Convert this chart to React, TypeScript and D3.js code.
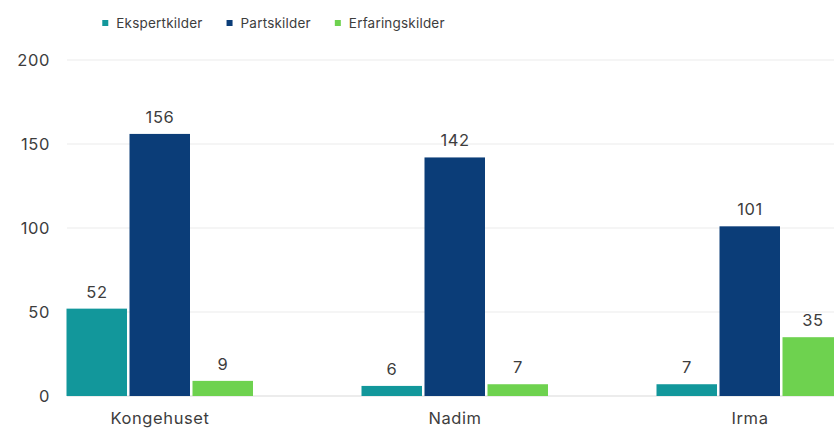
import React, { useEffect, useRef } from "react";
import * as d3 from "d3";

const categories = ["Kongehuset", "Nadim", "Irma"];
const seriesNames = ["Ekspertkilder", "Partskilder", "Erfaringskilder"];
const ekspert = [52, 6, 7];
const parts = [156, 142, 101];
const erfaring = [9, 7, 35];
const yTicks = [0, 50, 100, 150, 200];
const colors = ["#12979b", "#0b3d78", "#6ed24f"];

const W = 834;
const H = 431;
const FONT = "Inter, 'Open Sans', sans-serif";
const TEXT = "#3d3d3d";

export default function App() {
  const ref = useRef<SVGSVGElement | null>(null);

  useEffect(() => {
    const svg = d3.select(ref.current);
    svg.selectAll("*").remove();

    const values = [ekspert, parts, erfaring];
    const y = d3.scaleLinear().domain([0, 200]).range([396, 60]);
    const x0 = d3.scaleBand<string>().domain(categories).range([12.5, 897.5]).padding(0);
    const x1 = d3.scaleBand<string>().domain(seriesNames).range([53, 242]).padding(0);

    // gridlines
    svg.append("g")
      .selectAll("line")
      .data(yTicks)
      .join("line")
      .attr("x1", 67)
      .attr("x2", W)
      .attr("y1", (d) => y(d))
      .attr("y2", (d) => y(d))
      .attr("stroke", (d) => (d === 0 ? "#d9d9d9" : "#ececec"))
      .attr("stroke-width", 1.2);

    // y tick labels
    svg.append("g")
      .selectAll("text")
      .data(yTicks)
      .join("text")
      .attr("x", 50)
      .attr("y", (d) => y(d))
      .attr("dy", "0.36em")
      .attr("text-anchor", "end")
      .attr("font-family", FONT)
      .attr("font-size", 16.5)
      .attr("letter-spacing", 0.6)
      .attr("fill", TEXT)
      .text((d) => String(d));

    // bars
    const rows: { cat: string; s: string; v: number; i: number }[] = [];
    categories.forEach((c, ci) =>
      seriesNames.forEach((s, si) => rows.push({ cat: c, s, v: values[si][ci], i: si }))
    );

    const g = svg.append("g");
    g.selectAll("rect")
      .data(rows)
      .join("rect")
      .attr("x", (d) => (x0(d.cat) as number) + (x1(d.s) as number) + 1)
      .attr("width", x1.bandwidth() - 2.5)
      .attr("y", (d) => y(d.v))
      .attr("height", (d) => y(0) - y(d.v))
      .attr("fill", (d) => colors[d.i]);

    g.selectAll("text")
      .data(rows)
      .join("text")
      .attr("x", (d) => (x0(d.cat) as number) + (x1(d.s) as number) + x1.bandwidth() / 2)
      .attr("y", (d) => y(d.v) - 11)
      .attr("text-anchor", "middle")
      .attr("font-family", FONT)
      .attr("font-size", 16.5)
      .attr("letter-spacing", 0.6)
      .attr("fill", TEXT)
      .text((d) => String(d.v));

    // category labels
    svg.append("g")
      .selectAll("text")
      .data(categories)
      .join("text")
      .attr("x", (d) => (x0(d) as number) + x0.bandwidth() / 2)
      .attr("y", 424)
      .attr("text-anchor", "middle")
      .attr("font-family", FONT)
      .attr("font-size", 16.5)
      .attr("letter-spacing", 0.6)
      .attr("fill", TEXT)
      .text((d) => d);

    // legend
    const lg = svg.append("g");
    const items = lg.selectAll("g").data(seriesNames).join("g");
    items.append("rect")
      .attr("width", 6)
      .attr("height", 6)
      .attr("y", 20)
      .attr("fill", (_, i) => colors[i]);
    items.append("text")
      .attr("x", 14)
      .attr("y", 28)
      .attr("font-family", FONT)
      .attr("font-size", 13.5)
      .attr("letter-spacing", 0.2)
      .attr("fill", TEXT)
      .text((d) => d);
    const widths: number[] = [];
    items.each(function () {
      const t = d3.select(this).select("text").node() as SVGTextElement;
      widths.push(14 + t.getComputedTextLength());
    });
    const gap = 24;
    const total = d3.sum(widths) + gap * (widths.length - 1);
    let cx = 273.5 - total / 2;
    items.attr("transform", (_, i) => {
      const t = `translate(${cx},0)`;
      cx += widths[i] + gap;
      return t;
    });
  }, []);

  return (
    <svg
      ref={ref}
      width={W}
      height={H}
      style={{ display: "block", position: "absolute", left: 0, top: 0, background: "#fff" }}
    />
  );
}
